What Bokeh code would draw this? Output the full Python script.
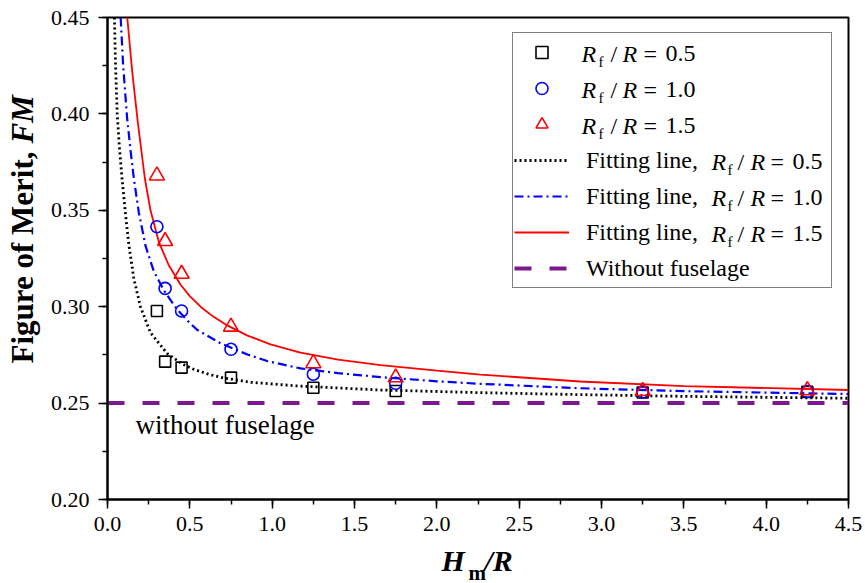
import math
from bokeh.plotting import figure
from bokeh.models import (Range1d, SingleIntervalTicker, PrintfTickFormatter, Label,
                          Legend, LegendItem)
from bokeh.layouts import row, column
from bokeh.embed import file_html
from bokeh.resources import INLINE

# ---------------- data ----------------
X_PTS = [0.30, 0.35, 0.45, 0.75, 1.25, 1.75, 3.25, 4.25]
FM_05 = [0.2978, 0.2715, 0.2684, 0.2632, 0.2580, 0.2563, 0.2555, 0.2558]
FM_10 = [0.3415, 0.3095, 0.2978, 0.2779, 0.2650, 0.2603, 0.2557, 0.2560]
FM_15 = [0.3680, 0.3340, 0.3170, 0.2896, 0.2706, 0.2633, 0.2562, 0.2566]

FIT05_X = [0.042, 0.049, 0.059, 0.072, 0.089, 0.109, 0.129, 0.160, 0.200, 0.261, 0.362,
           0.450, 0.524, 0.620, 0.706, 0.870, 1.170, 1.660, 2.270, 2.870, 3.500, 4.500]
FIT05_Y = [0.450, 0.425, 0.400, 0.383, 0.3657, 0.3484, 0.3325, 0.3145, 0.3000, 0.2865, 0.2758,
           0.2705, 0.2675, 0.2648, 0.2630, 0.2608, 0.2588, 0.2568, 0.2554, 0.2544, 0.2535, 0.2525]

FIT10_X = [0.080, 0.095, 0.119, 0.140, 0.160, 0.190, 0.231, 0.281, 0.342, 0.423, 0.500,
           0.545, 0.686, 0.850, 0.970, 1.172, 1.400, 1.658, 2.000, 2.265, 2.870, 3.500, 4.500]
FIT10_Y = [0.450, 0.425, 0.398, 0.381, 0.3665, 0.3490, 0.3315, 0.3185, 0.3085, 0.2985, 0.2915,
           0.2880, 0.2810, 0.2752, 0.2718, 0.2680, 0.2655, 0.2635, 0.2613, 0.2600, 0.2577, 0.2562,
           0.2547]

FIT15_X = [0.120, 0.150, 0.185, 0.227, 0.261, 0.312, 0.372, 0.443, 0.500, 0.565, 0.640,
           0.727, 0.850, 0.990, 1.172, 1.400, 1.658, 2.000, 2.265, 2.870, 3.500, 4.500]
FIT15_Y = [0.450, 0.422, 0.395, 0.3665, 0.3500, 0.3335, 0.3215, 0.3115, 0.3055, 0.3000, 0.2950,
           0.2903, 0.2850, 0.2805, 0.2762, 0.2725, 0.2697, 0.2668, 0.2648, 0.2612, 0.2588, 0.2568]

NOFUS_X = [0.0, 4.5]
NOFUS_Y = [0.25, 0.25]

RATIO_LABELS = ["0.5", "1.0", "1.5"]

SERIF = "Liberation Serif"
PURPLE = "#7a1a8c"
LEG_FS = 24

YLAB_W = 45          # width of the strip holding the y-axis title
MAIN_W = 820
MAIN_H = 545
XLAB_H = 38
TOTAL_W = YLAB_W + MAIN_W

# frame of the main plot, in page pixels
FR_L, FR_R, FR_T, FR_B = YLAB_W + 62, YLAB_W + MAIN_W - 17, 17, MAIN_H - 46
X0, X1, Y0, Y1 = 0.0, 4.5, 0.20, 0.45

# ---------------- main figure ----------------
p = figure(width=MAIN_W, height=MAIN_H, output_backend="svg", toolbar_location=None,
           x_range=Range1d(X0, X1), y_range=Range1d(Y0, Y1),
           min_border_left=62, min_border_right=17, min_border_top=17, min_border_bottom=46)
p.grid.visible = False
p.outline_line_color = "black"
p.outline_line_width = 2
p.background_fill_color = "white"
p.border_fill_color = "white"

for ax in (p.xaxis[0], p.yaxis[0]):
    ax.axis_line_width = 2
    ax.axis_line_color = "black"
    ax.major_tick_line_width = 1.5
    ax.minor_tick_line_width = 1.5
    ax.major_tick_in = 0
    ax.major_tick_out = 9
    ax.minor_tick_in = 0
    ax.minor_tick_out = 5
    ax.major_label_text_font = SERIF
    ax.major_label_text_font_size = "22px"
    ax.major_label_text_color = "black"

p.xaxis.ticker = SingleIntervalTicker(interval=0.5, num_minor_ticks=2)
p.yaxis.ticker = SingleIntervalTicker(interval=0.05, num_minor_ticks=2)
p.xaxis.formatter = PrintfTickFormatter(format="%.1f")
p.yaxis.formatter = PrintfTickFormatter(format="%.2f")
p.xaxis.major_label_standoff = 8
p.yaxis.major_label_standoff = 9

# ---------------- marks ----------------
r_nf = p.line(NOFUS_X, NOFUS_Y, line_color=PURPLE, line_width=4, line_dash="17 18")
r_f05 = p.line(FIT05_X, FIT05_Y, line_color="black", line_width=2.8, line_dash="2 3")
r_f10 = p.line(FIT10_X, FIT10_Y, line_color="#0000ff", line_width=2.2, line_dash="9 4 2 4")
r_f15 = p.line(FIT15_X, FIT15_Y, line_color="#ff0000", line_width=1.8)

r_s05 = p.scatter(X_PTS, FM_05, marker="square", size=11, fill_color=None,
                  line_color="black", line_width=1.6)
r_s10 = p.scatter(X_PTS, FM_10, marker="circle", size=12, fill_color=None,
                  line_color="#0000ff", line_width=1.6)
r_s15 = p.scatter(X_PTS, FM_15, marker="triangle", size=15, fill_color=None,
                  line_color="#ff0000", line_width=1.6)

# ---------------- legend ----------------
items = [
    LegendItem(label="", renderers=[r_s05]),
    LegendItem(label="", renderers=[r_s10]),
    LegendItem(label="", renderers=[r_s15]),
    LegendItem(label="Fitting line,", renderers=[r_f05]),
    LegendItem(label="Fitting line,", renderers=[r_f10]),
    LegendItem(label="Fitting line,", renderers=[r_f15]),
    LegendItem(label="Without fuselage", renderers=[r_nf]),
]
legend = Legend(items=items, location=(405, 211), padding=1, spacing=0, margin=0,
                glyph_width=55, glyph_height=30, label_height=36, label_standoff=17,
                label_width=244, border_line_color="black", border_line_width=1,
                background_fill_alpha=0.0,
                label_text_font=SERIF, label_text_font_size=f"{LEG_FS}px",
                label_text_color="black")
p.add_layout(legend, "center")


def to_data(px, py):
    """page pixel -> data coordinates of the main plot"""
    x = X0 + (px - FR_L) * (X1 - X0) / (FR_R - FR_L)
    y = Y1 - (py - FR_T) * (Y1 - Y0) / (FR_B - FR_T)
    return x, y


def main_label(text, px, py, size, style="normal"):
    x, y = to_data(px, py)
    p.add_layout(Label(x=x, y=y, text=text, text_font=SERIF, text_font_size=f"{size}px",
                       text_font_style=style, text_color="black", text_align="left",
                       text_baseline="middle", level="overlay"))


def ratio_text(x0, yc, val, offs):
    fo, so, ro, eo, no = offs
    main_label("R", x0, yc, LEG_FS, "italic")
    main_label("f", x0 + fo, yc + 8, 15)
    main_label("/", x0 + so, yc, LEG_FS)
    main_label("R", x0 + ro, yc, LEG_FS, "italic")
    main_label("=", x0 + eo, yc, LEG_FS)
    main_label(val, x0 + no, yc, LEG_FS)


row_y = [53 + 36 * i for i in range(7)]
for i, v in enumerate(RATIO_LABELS):
    ratio_text(581, row_y[i], v, (17, 29, 41, 62, 84))
for i, v in enumerate(RATIO_LABELS):
    ratio_text(711, row_y[3 + i], v, (16, 26, 39, 59, 81))

# annotation in the plot
main_label("without fuselage", 135, 424, 27)


# ---------------- axis titles (in strips of their own) ----------------
def strip(w, h):
    f = figure(frame_width=w, frame_height=h, output_backend="svg", toolbar_location=None,
               x_axis_location=None, y_axis_location=None, min_border=0,
               min_border_left=0, min_border_right=0, min_border_top=0, min_border_bottom=0,
               x_range=Range1d(0, w), y_range=Range1d(0, h))
    f.title.visible = False
    f.grid.visible = False
    f.outline_line_color = None
    f.background_fill_color = "white"
    f.border_fill_color = "white"
    return f


def strip_label(f, h, top, text, px, py, size, style, angle=0.0):
    f.add_layout(Label(x=px, y=h - (py - top), text=text, text_font=SERIF,
                       text_font_size=f"{size}px", text_font_style=style,
                       text_color="black", angle=angle, text_align="left",
                       text_baseline="middle"))


yfig = strip(YLAB_W, MAIN_H)
strip_label(yfig, MAIN_H, 0, "Figure of Merit, ", 21.5, 346, 31, "bold", math.pi / 2)
strip_label(yfig, MAIN_H, 0, "FM", 21.5, 126, 31, "bold italic", math.pi / 2)

xfig = strip(TOTAL_W, XLAB_H)
strip_label(xfig, XLAB_H, MAIN_H, "H", 441, 560, 30, "bold italic")
strip_label(xfig, XLAB_H, MAIN_H, "m", 468, 572, 21, "bold")
strip_label(xfig, XLAB_H, MAIN_H, "/R", 484, 560, 30, "bold italic")

layout = column(row(yfig, p, spacing=0), xfig, spacing=0)

open("out.html", "w").write(file_html(layout, INLINE))
